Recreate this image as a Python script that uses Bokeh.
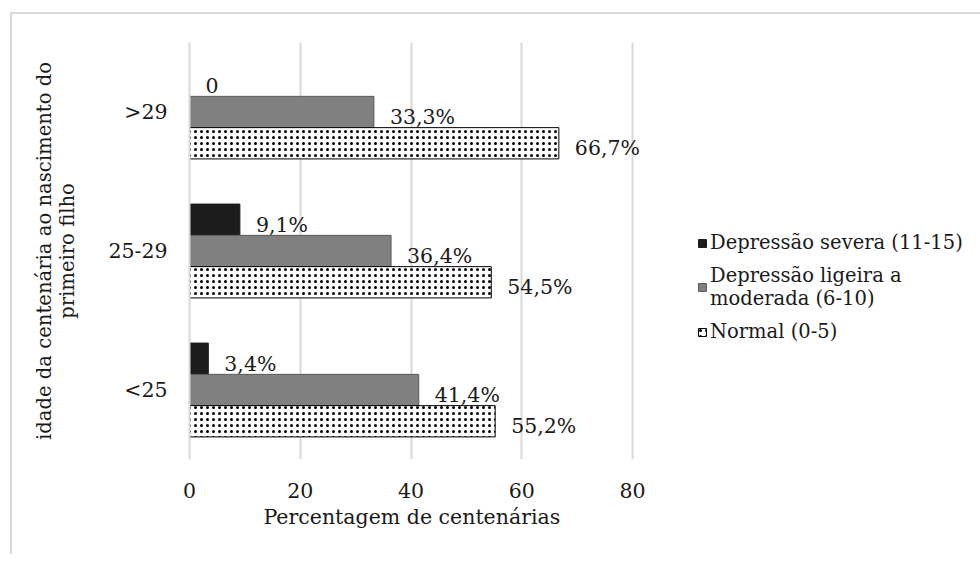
from bokeh.plotting import figure
from bokeh.models import ColumnDataSource, FactorRange, Legend, LegendItem, FixedTicker, Title
from bokeh.transform import dodge
from bokeh.core.properties import value
from bokeh.embed import file_html
from bokeh.resources import INLINE

# ---- data ----
categories = ["<25", "25-29", ">29"]
severa = [3.4, 9.1, 0.0]
ligeira = [41.4, 36.4, 33.3]
normal = [55.2, 54.5, 66.7]
severa_labels = ["3,4%", "9,1%", "0"]
ligeira_labels = ["41,4%", "36,4%", "33,3%"]
normal_labels = ["55,2%", "54,5%", "66,7%"]
series_names = ["Depressão severa (11-15)", "Depressão ligeira a\nmoderada (6-10)", "Normal (0-5)"]
x_ticks = [0, 20, 40, 60, 80]
x_title = "Percentagem de centenárias"
y_title = "idade da centenária ao nascimento do\nprimeiro filho"

FONT = "DejaVu Serif"
FS = "20.5px"
TXT = "#1a1a1a"

src = ColumnDataSource(dict(cat=categories, sev=severa, lig=ligeira, nor=normal,
                            sev_l=severa_labels, lig_l=ligeira_labels, nor_l=normal_labels))

FW = 507
PX_PER_UNIT = 443 / 80.0
p = figure(y_range=FactorRange(*categories), x_range=(0, FW / PX_PER_UNIT),
           frame_width=FW, frame_height=417,
           min_border_left=177, min_border_right=282, min_border_top=28, min_border_bottom=95,
           output_backend="svg", toolbar_location=None)

bh = 0.225
off = 0.225
r_sev = p.hbar(y=dodge("cat", off, range=p.y_range), right="sev", left=0, height=bh, source=src,
               fill_color="#1c1c1c", line_color="#1c1c1c", line_width=1)
r_lig = p.hbar(y=dodge("cat", 0, range=p.y_range), right="lig", left=0, height=bh, source=src,
               fill_color="#808080", line_color="#5a5a5a", line_width=1)
r_nor = p.hbar(y=dodge("cat", -off, range=p.y_range), right="nor", left=0, height=bh, source=src,
               fill_color="white", line_color="black", line_width=1,
               hatch_pattern="dot", hatch_color="black", hatch_scale=6, hatch_weight=0.3)

lab_kw = dict(source=src, text_font=value(FONT), text_font_size=FS, text_color=TXT,
              text_baseline="middle", text_align="left", x_offset=16, y_offset=5)
p.text(x="sev", y=dodge("cat", off, range=p.y_range), text="sev_l", **lab_kw)
p.text(x="lig", y=dodge("cat", 0, range=p.y_range), text="lig_l", **lab_kw)
p.text(x="nor", y=dodge("cat", -off, range=p.y_range), text="nor_l", **lab_kw)

# axes
p.xaxis.ticker = FixedTicker(ticks=x_ticks)
p.xaxis.axis_line_color = None
p.xaxis.major_tick_line_color = None
p.xaxis.minor_tick_line_color = None
p.xaxis.major_tick_out = 0
p.xaxis.major_label_standoff = 23
p.yaxis.axis_label = y_title
p.yaxis.axis_line_color = "#d9d9d9"
p.yaxis.axis_line_width = 2
p.yaxis.major_tick_line_color = None
p.yaxis.minor_tick_line_color = None
p.yaxis.major_tick_out = 0
p.yaxis.major_label_standoff = 22
p.yaxis.axis_label_standoff = 26
p.yaxis.axis_label_text_line_height = 1.0
for ax in (p.xaxis, p.yaxis):
    ax.major_label_text_font = FONT
    ax.major_label_text_font_size = FS
    ax.major_label_text_color = TXT
    ax.axis_label_text_font = FONT
    ax.axis_label_text_font_size = FS
    ax.axis_label_text_font_style = "normal"
    ax.axis_label_text_color = TXT
p.yaxis.axis_label_text_font_size = "19.6px"

# x-axis title, centred under the 0-80 span
xt = Title(text=x_title, align="left", offset=74, standoff=4,
           text_font=FONT, text_font_size=FS, text_font_style="normal", text_color=TXT)
p.add_layout(xt, "below")

p.xgrid.grid_line_color = "#d9d9d9"
p.xgrid.grid_line_width = 2
p.ygrid.grid_line_color = None
p.outline_line_color = None
p.y_range.range_padding = 0
p.y_range.group_padding = 0

legend = Legend(items=[LegendItem(label=series_names[0], renderers=[r_sev]),
                       LegendItem(label=series_names[1], renderers=[r_lig]),
                       LegendItem(label=series_names[2], renderers=[r_nor])],
                location=(1, 116), padding=0, margin=0, spacing=10,
                border_line_color=None, background_fill_alpha=0,
                glyph_width=10, glyph_height=10, label_standoff=3,
                label_text_font=FONT, label_text_font_size="19.5px", label_text_color=TXT)
p.add_layout(legend, "right")

p.styles = {"border-top": "2px solid #d9d9d9", "border-left": "2px solid #d9d9d9",
            "margin-left": "10px", "margin-top": "12px"}

open("out.html", "w").write(file_html(p, INLINE))
